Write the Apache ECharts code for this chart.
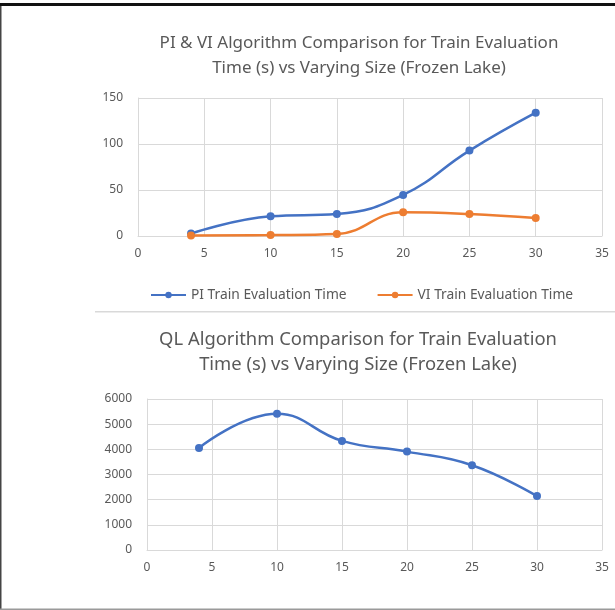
<!DOCTYPE html>
<html>
<head>
<meta charset="utf-8">
<script src="https://cdn.jsdelivr.net/npm/echarts@6/dist/echarts.min.js"></script>
<style>
  html, body { margin: 0; padding: 0; background: #fff; }
  #chart { width: 615px; height: 610px; }
</style>
</head>
<body>
<div id="chart"></div>
<script>
// Grid sizes (n x n Frozen Lake)
const sizes = [4, 10, 15, 20, 25, 30];
// Training evaluation time in seconds
const piTime = [2.6, 21.4, 23.9, 44.6, 92.8, 134];
const viTime = [0.5, 1.0, 2.2, 25.8, 23.9, 19.6];
const qlTime = [4057, 5413, 4336, 3909, 3367, 2142];

const titleTop = 'PI & VI Algorithm Comparison for Train Evaluation\nTime (s) vs Varying Size (Frozen Lake)';
const titleBottom = 'QL Algorithm Comparison for Train Evaluation\nTime (s) vs Varying Size (Frozen Lake)';
const legendNames = ['PI Train Evaluation Time', 'VI Train Evaluation Time'];

const FONT = "'Noto Sans', sans-serif";
const TEXT = '#595959';
const GRID = '#d9d9d9';
const BLUE = '#4472C4';
const ORANGE = '#ED7D31';

const pairs = (ys) => sizes.map((x, i) => [x, ys[i]]);

function xAxis(gridIndex) {
  return {
    type: 'value', gridIndex, min: 0, max: 35, interval: 5,
    axisLine: { show: true, lineStyle: { color: GRID, width: 1 } },
    axisTick: { show: false },
    splitLine: { show: true, lineStyle: { color: GRID, width: 1 } },
    axisLabel: { color: TEXT, fontSize: 12, fontFamily: FONT, margin: 12 }
  };
}
function yAxis(gridIndex, max, interval) {
  return {
    type: 'value', gridIndex, min: 0, max, interval,
    axisLine: { show: true, lineStyle: { color: GRID, width: 1 } },
    axisTick: { show: false },
    splitLine: { show: true, lineStyle: { color: GRID, width: 1 } },
    axisLabel: {
      color: TEXT, fontSize: 12, fontFamily: FONT, margin: 15,
      formatter: (v) => String(v)
    }
  };
}
function lineSeries(name, data, color, xi, yi) {
  return {
    name, type: 'line', xAxisIndex: xi, yAxisIndex: yi,
    data, smooth: 0.45,
    symbol: 'circle', symbolSize: 8,
    itemStyle: { color },
    lineStyle: { color, width: 2.5 },
    animation: false
  };
}

const chart = echarts.init(document.getElementById('chart'), null, { renderer: 'canvas' });
chart.setOption({
  backgroundColor: '#ffffff',
  animation: false,
  title: [
    {
      text: titleTop, left: 354, top: 26, textAlign: 'center',
      textStyle: { color: TEXT, fontSize: 17, fontWeight: 'normal', fontFamily: FONT, lineHeight: 25 }
    },
    {
      text: titleBottom, left: 353, top: 322, textAlign: 'center',
      textStyle: { color: TEXT, fontSize: 18.4, fontWeight: 'normal', fontFamily: FONT, lineHeight: 25 }
    }
  ],
  legend: {
    data: legendNames, left: 145, top: 283, itemGap: 30,
    itemWidth: 35, itemHeight: 8,
    textStyle: { color: TEXT, fontSize: 13.8, fontFamily: FONT }
  },
  grid: [
    { left: 138, top: 98, width: 464, height: 138 },
    { left: 147, top: 399, width: 455, height: 151 }
  ],
  xAxis: [xAxis(0), xAxis(1)],
  yAxis: [yAxis(0, 150, 50), yAxis(1, 6000, 1000)],
  series: [
    lineSeries(legendNames[0], pairs(piTime), BLUE, 0, 0),
    lineSeries(legendNames[1], pairs(viTime), ORANGE, 0, 0),
    lineSeries('QL Train Evaluation Time', pairs(qlTime), BLUE, 1, 1)
  ],
  graphic: [
    // frame lines around the sheet
    { type: 'rect', shape: { x: 0, y: 3, width: 615, height: 3 }, style: { fill: '#111' }, silent: true },
    { type: 'rect', shape: { x: 0, y: 6, width: 1.5, height: 604 }, style: { fill: '#444' }, silent: true },
    { type: 'rect', shape: { x: 0, y: 608.5, width: 615, height: 1.5 }, style: { fill: '#9a9a9a' }, silent: true },
    // divider between the two charts
    { type: 'rect', shape: { x: 95, y: 311, width: 520, height: 1.5 }, style: { fill: '#d9d9d9' }, silent: true }
  ]
});
</script>
</body>
</html>
